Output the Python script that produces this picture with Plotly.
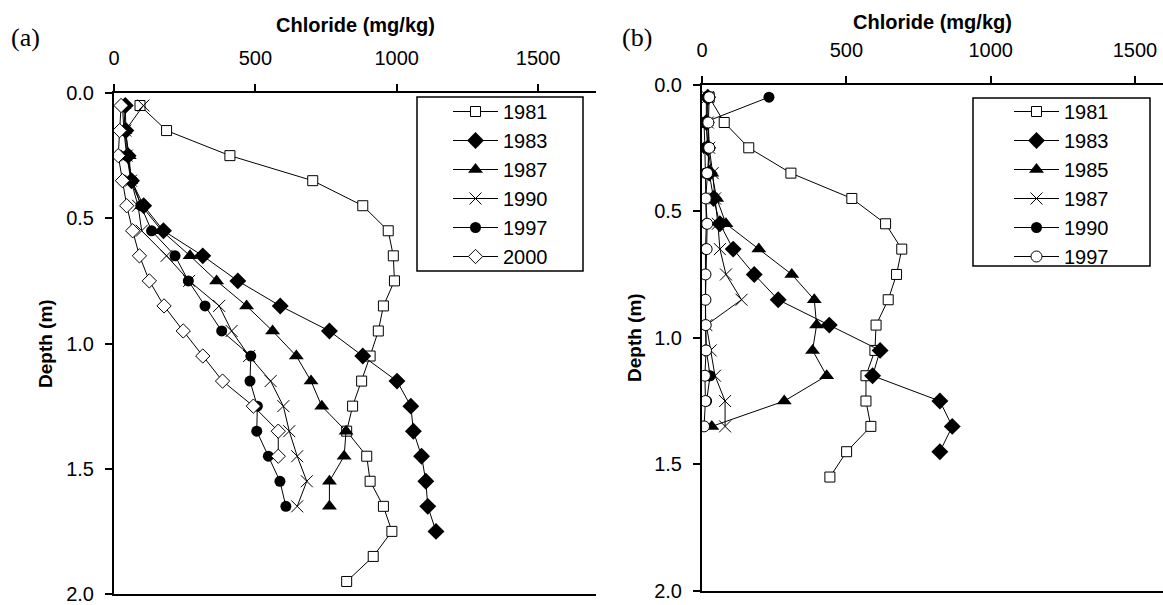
import plotly.graph_objects as go

W, H = 1163, 605

# ---------------- Panel (a) data ----------------
a_1981_depth = [0.05, 0.15, 0.25, 0.35, 0.45, 0.55, 0.65, 0.75, 0.85, 0.95,
                1.05, 1.15, 1.25, 1.35, 1.45, 1.55, 1.65, 1.75, 1.85, 1.95]
a_1981_cl = [92, 186, 410, 703, 880, 970, 988, 992, 953, 935,
             906, 876, 844, 823, 894, 906, 953, 983, 917, 823]

a_1983_depth = [0.05, 0.15, 0.25, 0.35, 0.45, 0.55, 0.65, 0.75, 0.85, 0.95,
                1.05, 1.15, 1.25, 1.35, 1.45, 1.55, 1.65, 1.75]
a_1983_cl = [40, 42, 50, 62, 105, 175, 314, 438, 588, 762,
             880, 1001, 1050, 1059, 1088, 1103, 1110, 1139]

a_1987_depth = [0.05, 0.15, 0.25, 0.35, 0.45, 0.55, 0.65, 0.75, 0.85, 0.95,
                1.05, 1.15, 1.25, 1.35, 1.45, 1.55, 1.65]
a_1987_cl = [35, 39, 54, 59, 98, 169, 269, 363, 469, 561,
             645, 697, 735, 821, 814, 762, 762]

a_1990_depth = [0.05, 0.15, 0.25, 0.35, 0.45, 0.55, 0.65, 0.75, 0.85, 0.95,
                1.05, 1.15, 1.25, 1.35, 1.45, 1.55, 1.65]
a_1990_cl = [104, 40, 45, 60, 85, 98, 186, 266, 372, 416,
             478, 554, 599, 620, 648, 682, 648]

a_1997_depth = [0.05, 0.15, 0.25, 0.35, 0.45, 0.55, 0.65, 0.75, 0.85, 0.95,
                1.05, 1.15, 1.25, 1.35, 1.45, 1.55, 1.65]
a_1997_cl = [30, 35, 45, 65, 95, 133, 216, 263, 322, 381,
             484, 481, 507, 505, 546, 587, 608]

a_2000_depth = [0.05, 0.15, 0.25, 0.35, 0.45, 0.55, 0.65, 0.75, 0.85, 0.95,
                1.05, 1.15, 1.25, 1.35, 1.45]
a_2000_cl = [25, 20, 15, 30, 45, 66, 90, 125, 177, 245,
             314, 384, 493, 581, 581]

# ---------------- Panel (b) data ----------------
b_1981_depth = [0.05, 0.15, 0.25, 0.35, 0.45, 0.55, 0.65, 0.75, 0.85, 0.95,
                1.05, 1.15, 1.25, 1.35, 1.45, 1.55]
b_1981_cl = [25, 77, 162, 308, 519, 636, 692, 674, 645, 603,
             599, 568, 568, 585, 501, 443]

b_1983_depth = [0.05, 0.15, 0.25, 0.35, 0.45, 0.55, 0.65, 0.75, 0.85, 0.95,
                1.05, 1.15, 1.25, 1.35, 1.45]
b_1983_cl = [20, 15, 20, 25, 40, 62, 108, 181, 264, 441,
             617, 591, 824, 867, 824]

b_1985_depth = [0.05, 0.15, 0.25, 0.35, 0.45, 0.55, 0.65, 0.75, 0.85, 0.95,
                1.05, 1.15, 1.25, 1.35]
b_1985_cl = [15, 15, 20, 34, 51, 83, 197, 311, 389, 397,
             383, 432, 285, 34]

b_1987_depth = [0.05, 0.15, 0.25, 0.35, 0.45, 0.55, 0.65, 0.75, 0.85, 0.95,
                1.05, 1.15, 1.25, 1.35]
b_1987_cl = [20, 20, 25, 37, 45, 55, 62, 83, 137, 15,
             30, 45, 80, 80]

b_1990_depth = [0.05, 0.15, 0.25, 0.35, 0.45, 0.55, 0.65, 0.75, 0.85, 0.95,
                1.05, 1.15, 1.25]
b_1990_cl = [232, 7, 10, 12, 12, 15, 12, 12, 12, 12,
             15, 28, 16]

b_1997_depth = [0.05, 0.15, 0.25, 0.35, 0.45, 0.55, 0.65, 0.75, 0.85, 0.95,
                1.05, 1.15, 1.25, 1.35]
b_1997_cl = [25, 22, 25, 18, 13, 18, 16, 12, 12, 13,
             14, 10, 12, 7]

x_ticks = [0, 500, 1000, 1500]
y_ticks = [0.0, 0.5, 1.0, 1.5, 2.0]

# ---------------- styles ----------------
OPEN_SQ = dict(symbol="square", size=10, color="white", line=dict(color="black", width=1))
FILL_DI = dict(symbol="diamond", size=13, color="black", line=dict(color="black", width=0))
FILL_TR = dict(symbol="triangle-up", size=13, color="black", line=dict(color="black", width=0))
CROSS = dict(symbol="x-thin-open", size=12, color="black", line=dict(color="black", width=1))
FILL_CI = dict(symbol="circle", size=11, color="black", line=dict(color="black", width=0))
OPEN_DI = dict(symbol="diamond", size=11, color="white", line=dict(color="black", width=1))
OPEN_CI = dict(symbol="circle", size=11, color="white", line=dict(color="black", width=1))

fig = go.Figure()

def add(x, y, name, marker, xa, ya, legend):
    fig.add_trace(go.Scatter(
        x=x, y=y, name=name, mode="lines+markers",
        line=dict(color="black", width=1),
        marker=marker, xaxis=xa, yaxis=ya, legend=legend))

add(a_1981_cl, a_1981_depth, "1981", OPEN_SQ, "x", "y", "legend")
add(a_1983_cl, a_1983_depth, "1983", FILL_DI, "x", "y", "legend")
add(a_1987_cl, a_1987_depth, "1987", FILL_TR, "x", "y", "legend")
add(a_1990_cl, a_1990_depth, "1990", CROSS, "x", "y", "legend")
add(a_1997_cl, a_1997_depth, "1997", FILL_CI, "x", "y", "legend")
add(a_2000_cl, a_2000_depth, "2000", OPEN_DI, "x", "y", "legend")

add(b_1981_cl, b_1981_depth, "1981", OPEN_SQ, "x2", "y2", "legend2")
add(b_1983_cl, b_1983_depth, "1983", FILL_DI, "x2", "y2", "legend2")
add(b_1985_cl, b_1985_depth, "1985", FILL_TR, "x2", "y2", "legend2")
add(b_1987_cl, b_1987_depth, "1987", CROSS, "x2", "y2", "legend2")
add(b_1990_cl, b_1990_depth, "1990", FILL_CI, "x2", "y2", "legend2")
add(b_1997_cl, b_1997_depth, "1997", OPEN_CI, "x2", "y2", "legend2")

FONT = "Liberation Sans, Arial, sans-serif"
SERIF = "Liberation Serif, Times New Roman, serif"

def px_x(p):
    return p / W

def px_y(p):
    return 1 - p / H

xcommon = dict(side="top", tickvals=x_ticks, ticks="outside", ticklen=7, tickwidth=1.5,
               tickcolor="black", showline=True, linewidth=2, linecolor="black",
               mirror=True, showgrid=False, zeroline=False, automargin=False,
               ticklabelstandoff=11, ticklabeloverflow="allow",
               tickfont=dict(family=FONT, size=20, color="black"))
ycommon = dict(tickvals=y_ticks, tickformat=".1f", ticks="outside", ticklen=7, tickwidth=1.5,
               tickcolor="black", showline=True, linewidth=2, linecolor="black",
               mirror=False, showgrid=False, zeroline=False, automargin=False,
               ticklabelstandoff=7, ticklabeloverflow="allow",
               tickfont=dict(family=FONT, size=20, color="black"))

def label(text, x, y, size, family=FONT, angle=0):
    return dict(text=text, x=px_x(x), y=px_y(y), xref="paper", yref="paper",
                xanchor="center", yanchor="middle", showarrow=False, textangle=angle,
                font=dict(family=family, size=size, color="black"))

fig.update_layout(
    width=W, height=H,
    margin=dict(l=0, r=0, t=0, b=0, autoexpand=False),
    paper_bgcolor="white", plot_bgcolor="white",
    font=dict(family=FONT, size=20, color="black"),
    xaxis=dict(domain=[px_x(114), px_x(596)], range=[0, 1705], anchor="y", **xcommon),
    yaxis=dict(domain=[px_y(594), px_y(93)], range=[2.0, 0.0], anchor="x", **ycommon),
    xaxis2=dict(domain=[px_x(702), px_x(1163)], range=[0, 1597], anchor="y2", **xcommon),
    yaxis2=dict(domain=[px_y(591), px_y(84.5)], range=[2.0, 0.0], anchor="x2", **ycommon),
    legend=dict(x=px_x(448), y=px_y(92), xanchor="left", yanchor="top",
                bgcolor="rgba(0,0,0,0)", borderwidth=0, itemwidth=45,
                font=dict(family=FONT, size=20, color="black")),
    legend2=dict(x=px_x(1009), y=px_y(92), xanchor="left", yanchor="top",
                 bgcolor="rgba(0,0,0,0)", borderwidth=0, itemwidth=45,
                 font=dict(family=FONT, size=20, color="black")),
    shapes=[
        dict(type="rect", xref="paper", yref="paper",
             x0=px_x(417), x1=px_x(583), y0=px_y(271), y1=px_y(97),
             line=dict(color="black", width=1.5), fillcolor="white", layer="below"),
        dict(type="rect", xref="paper", yref="paper",
             x0=px_x(973), x1=px_x(1150), y0=px_y(266), y1=px_y(98),
             line=dict(color="black", width=1.5), fillcolor="white", layer="below"),
    ],
    annotations=[
        label("<b>Chloride (mg/kg)</b>", 355, 25, 20),
        label("<b>Chloride (mg/kg)</b>", 932, 22, 20),
        label("<b>Depth (m)</b>", 45, 344, 19, angle=-90),
        label("<b>Depth (m)</b>", 634, 338, 19, angle=-90),
        label("(a)", 25, 38, 26, family=SERIF),
        label("(b)", 637, 37, 26, family=SERIF),
    ],
)

fig.write_html("out.html",
               config={"displayModeBar": False},
               post_script="document.body.style.margin='0';document.body.style.overflow='hidden';")
